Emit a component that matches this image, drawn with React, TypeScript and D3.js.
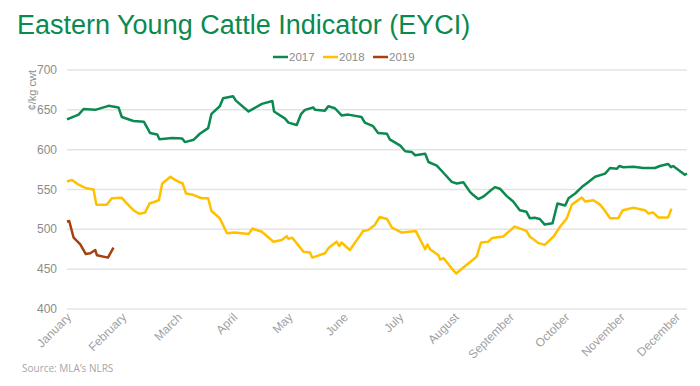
import React, { useRef, useEffect } from "react";
import * as d3 from "d3";

// x positions are in months from 1 January (0 = Jan, 1 = Feb, ...)
const months = [
  "January", "February", "March", "April", "May", "June",
  "July", "August", "September", "October", "November", "December",
];
const yTicks = [400, 450, 500, 550, 600, 650, 700];
const seriesNames = ["2017", "2018", "2019"];
const seriesColors = ["#0b8a50", "#ffc000", "#a5410d"];

const eyci2017: [number, number][] = [
  [0.0, 638], [0.21, 644], [0.3, 651], [0.51, 650], [0.75, 655], [0.93, 653],
  [0.99, 641], [1.2, 636], [1.39, 635], [1.5, 621], [1.63, 619], [1.67, 613],
  [1.9, 614.5], [2.08, 614], [2.13, 609.5], [2.29, 612.5], [2.4, 620], [2.55, 627],
  [2.61, 645], [2.76, 654.5], [2.82, 664.5], [3.0, 667], [3.05, 661.6], [3.28, 648],
  [3.52, 657.5], [3.71, 661], [3.74, 648], [3.94, 639], [4.0, 634], [4.15, 631],
  [4.23, 645], [4.3, 650], [4.45, 653], [4.48, 650], [4.66, 649], [4.72, 654.5],
  [4.84, 652], [4.96, 643], [5.08, 644], [5.32, 641], [5.38, 634], [5.53, 629.5],
  [5.62, 621], [5.78, 620], [5.83, 613], [6.02, 605], [6.11, 598], [6.23, 597],
  [6.29, 593], [6.47, 595], [6.53, 584.5], [6.68, 580], [6.8, 571], [6.95, 559.5],
  [7.04, 557.5], [7.16, 559], [7.28, 547], [7.34, 543], [7.43, 538], [7.52, 541],
  [7.64, 548], [7.73, 553], [7.82, 551], [7.94, 542], [8.06, 535], [8.18, 524],
  [8.3, 522], [8.36, 514], [8.45, 514.5], [8.54, 513], [8.63, 506], [8.77, 507.5],
  [8.86, 532.5], [9.0, 530], [9.06, 539], [9.18, 545], [9.3, 553], [9.42, 559.5],
  [9.54, 566], [9.72, 570], [9.81, 577], [9.93, 576], [9.98, 579.5], [10.05, 578],
  [10.23, 578.5], [10.41, 577], [10.62, 577], [10.71, 579.5], [10.86, 582],
  [10.91, 578], [10.95, 579.5], [11.16, 568.5], [11.2, 570],
];

const eyci2018: [number, number][] = [
  [0.0, 560], [0.09, 562], [0.21, 556], [0.33, 552], [0.48, 550], [0.53, 531],
  [0.72, 531], [0.81, 539], [0.99, 539.5], [1.08, 532.5], [1.2, 524], [1.31, 519.5],
  [1.41, 521], [1.49, 532.5], [1.66, 536.5], [1.72, 557.5], [1.87, 566], [1.93, 563],
  [2.02, 559.5], [2.09, 557.5], [2.15, 545], [2.29, 543], [2.43, 539], [2.55, 539],
  [2.61, 523], [2.76, 514], [2.89, 495], [3.03, 496], [3.28, 494], [3.35, 501],
  [3.52, 497], [3.73, 484.5], [3.88, 486.5], [3.97, 491.5], [4.0, 488], [4.07, 489.5],
  [4.27, 472], [4.39, 471], [4.43, 464.5], [4.66, 470], [4.73, 477], [4.87, 484.5],
  [4.92, 479], [4.96, 483.5], [5.11, 474], [5.35, 498], [5.44, 499], [5.56, 505.5],
  [5.65, 515.5], [5.78, 513], [5.87, 502], [6.05, 496], [6.3, 498], [6.47, 475],
  [6.51, 481], [6.56, 475], [6.71, 467.5], [6.74, 462], [6.8, 464], [6.95, 451],
  [7.03, 444.5], [7.16, 452], [7.4, 465.5], [7.48, 483.5], [7.61, 484.5], [7.68, 489],
  [7.88, 491], [8.09, 503.5], [8.3, 498], [8.36, 491], [8.51, 483], [8.63, 480.5],
  [8.79, 491], [8.91, 503.5], [9.03, 514], [9.12, 531], [9.3, 540], [9.36, 535],
  [9.51, 536.5], [9.63, 531], [9.72, 523], [9.81, 514], [9.96, 514], [10.04, 524],
  [10.23, 527], [10.44, 524], [10.5, 520], [10.59, 521], [10.68, 515], [10.86, 515],
  [10.92, 526],
];

const eyci2019: [number, number][] = [
  [0.0, 509.5], [0.04, 510.5], [0.12, 489.5], [0.24, 481], [0.34, 469], [0.42, 470],
  [0.51, 474], [0.54, 467.5], [0.74, 464.5], [0.84, 477],
];

const seriesData = [eyci2017, eyci2018, eyci2019];

const App = () => {
  const ref = useRef<SVGSVGElement>(null);

  useEffect(() => {
    const svg = d3.select(ref.current);
    svg.selectAll("*").remove();

    const x = d3.scaleLinear().domain([0, 11.2]).range([67, 687]);
    const y = d3.scaleLinear().domain([400, 700]).range([309, 70]);
    const font = "'Liberation Sans', Arial, sans-serif";

    // title
    svg
      .append("text")
      .attr("x", 17)
      .attr("y", 34)
      .attr("font-family", font)
      .attr("font-size", 27)
      .attr("fill", "#0b8a50")
      .text("Eastern Young Cattle Indicator (EYCI)");

    // gridlines + y labels
    const grid = svg.append("g");
    grid
      .selectAll("line")
      .data(yTicks)
      .join("line")
      .attr("x1", 67)
      .attr("x2", 687)
      .attr("y1", (d) => y(d))
      .attr("y2", (d) => y(d))
      .attr("stroke", "#e4e4e4")
      .attr("stroke-width", 1.5);
    grid
      .selectAll("text")
      .data(yTicks)
      .join("text")
      .attr("x", 57)
      .attr("y", (d) => y(d) + 4)
      .attr("text-anchor", "end")
      .attr("font-family", font)
      .attr("font-size", 12)
      .attr("fill", "#8c8c8c")
      .text((d) => d);

    // y axis title
    svg
      .append("text")
      .attr("transform", "translate(36,70) rotate(-90)")
      .attr("text-anchor", "end")
      .attr("font-family", font)
      .attr("font-size", 11)
      .attr("fill", "#8c8c8c")
      .text("¢/kg cwt");

    // x labels
    svg
      .append("g")
      .selectAll("text")
      .data(months)
      .join("text")
      .attr("transform", (d, i) => `translate(${x(i) + 5},318) rotate(-45)`)
      .attr("text-anchor", "end")
      .attr("font-family", font)
      .attr("font-size", 12)
      .attr("fill", "#a0a0a0")
      .text((d) => d);

    // lines
    const line = d3
      .line<[number, number]>()
      .x((d) => x(d[0]))
      .y((d) => y(d[1]));
    svg
      .append("g")
      .selectAll("path")
      .data(seriesData)
      .join("path")
      .attr("d", (d) => line(d))
      .attr("fill", "none")
      .attr("stroke", (d, i) => seriesColors[i])
      .attr("stroke-width", 2.5)
      .attr("stroke-linejoin", "round");

    // legend
    const legend = svg
      .append("g")
      .selectAll("g")
      .data(seriesNames)
      .join("g")
      .attr("transform", (d, i) => `translate(${273 + i * 50},57)`);
    legend
      .append("line")
      .attr("x1", 0)
      .attr("x2", 15)
      .attr("stroke", (d, i) => seriesColors[i])
      .attr("stroke-width", 2.5);
    legend
      .append("text")
      .attr("x", 16)
      .attr("y", 4)
      .attr("font-family", font)
      .attr("font-size", 11.5)
      .attr("fill", "#8c8c8c")
      .text((d) => d);

    // source
    svg
      .append("text")
      .attr("x", 22)
      .attr("y", 372)
      .attr("font-family", "'Open Sans', sans-serif")
      .attr("font-size", 10)
      .attr("fill", "#a6a6a6")
      .text("Source: MLA’s NLRS");
  }, []);

  return (
    <svg
      ref={ref}
      width={700}
      height={386}
      style={{ position: "absolute", left: 0, top: 0, background: "#fff" }}
    />
  );
};

export default App;
